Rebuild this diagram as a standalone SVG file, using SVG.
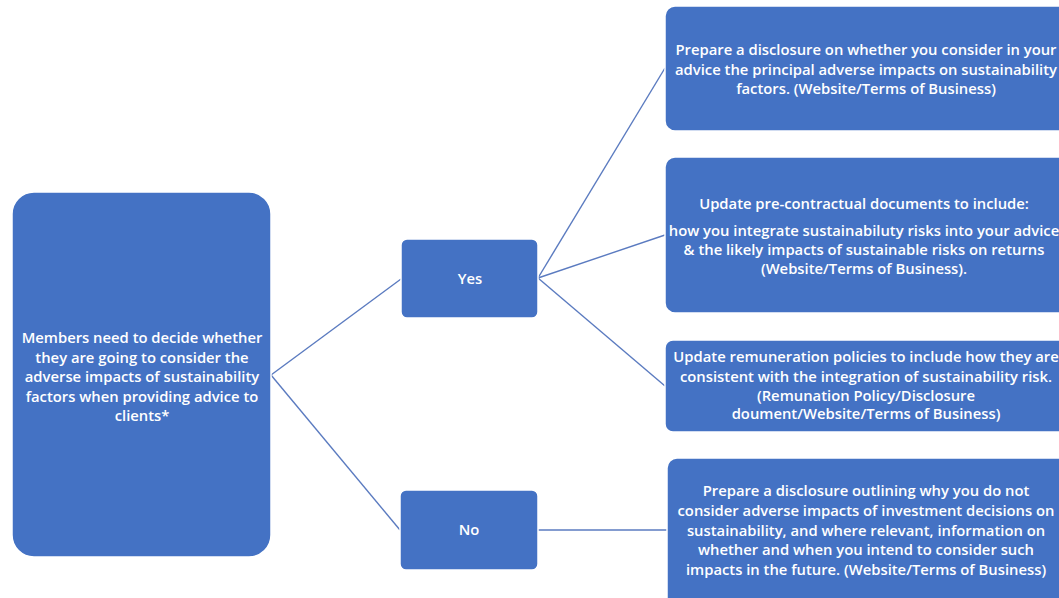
<svg xmlns="http://www.w3.org/2000/svg" width="1059" height="598" viewBox="0 0 1059 598">
<style>
.box{fill:#4472C4;stroke:#ffffff;stroke-width:1.5}
.t{font-family:"Open Sans","Liberation Sans",sans-serif;font-size:14.8px;fill:#ffffff;text-anchor:middle;font-weight:600}
.c{stroke:#5B7BC0;stroke-width:1.4;fill:none}
</style>
<rect width="1059" height="598" fill="#ffffff"/>
<g id="connectors">
<line class="c" x1="271" y1="375" x2="401" y2="279"/>
<line class="c" x1="271" y1="375" x2="400" y2="530"/>
<line class="c" x1="538" y1="278" x2="665" y2="68"/>
<line class="c" x1="538" y1="278" x2="665" y2="235"/>
<line class="c" x1="538" y1="278" x2="665" y2="386"/>
<line class="c" x1="538" y1="530" x2="667" y2="530"/>
</g>
<g id="root">
<rect class="box" x="12" y="192" width="259" height="365" rx="22"/>
<text class="t"><tspan x="142" y="343">Members need to decide whether</tspan><tspan x="142" y="362.5">they are going to consider the</tspan><tspan x="142" y="382">adverse impacts of sustainability</tspan><tspan x="142" y="401.5">factors when providing advice to</tspan><tspan x="142" y="421">clients*</tspan></text>
</g>
<g id="yes">
<rect class="box" x="401" y="239" width="137" height="79" rx="6"/>
<text class="t" x="470" y="284">Yes</text>
</g>
<g id="no">
<rect class="box" x="400" y="490" width="138" height="80" rx="6"/>
<text class="t" x="469" y="535">No</text>
</g>
<g id="box1">
<rect class="box" x="665" y="6" width="404" height="125" rx="10"/>
<text class="t"><tspan x="866" y="55">Prepare a disclosure on whether you consider in your</tspan><tspan x="866" y="75">advice the principal adverse impacts on sustainability</tspan><tspan x="866" y="94">factors. (Website/Terms of Business)</tspan></text>
</g>
<g id="box2">
<rect class="box" x="665" y="157" width="404" height="156" rx="10"/>
<text class="t"><tspan x="864" y="209">Update pre-contractual documents to include:</tspan><tspan x="864" y="236">how you integrate sustainabiluty risks into your advice</tspan><tspan x="864" y="255">&amp; the likely impacts of sustainable risks on returns</tspan><tspan x="864" y="274">(Website/Terms of Business).</tspan></text>
</g>
<g id="box3">
<rect class="box" x="665" y="340" width="404" height="92" rx="8"/>
<text class="t"><tspan x="866" y="362">Update remuneration policies to include how they are</tspan><tspan x="866" y="382">consistent with the integration of sustainability risk.</tspan><tspan x="866" y="401">(Remunation Policy/Disclosure</tspan><tspan x="866" y="419">doument/Website/Terms of Business)</tspan></text>
</g>
<g id="box4">
<rect class="box" x="667" y="458" width="402" height="150" rx="10"/>
<text class="t"><tspan x="866" y="496">Prepare a disclosure outlining why you do not</tspan><tspan x="866" y="516">consider adverse impacts of investment decisions on</tspan><tspan x="866" y="536">sustainability, and where relevant, information on</tspan><tspan x="866" y="555">whether and when you intend to consider such</tspan><tspan x="866" y="575">impacts in the future. (Website/Terms of Business)</tspan></text>
</g>
</svg>
